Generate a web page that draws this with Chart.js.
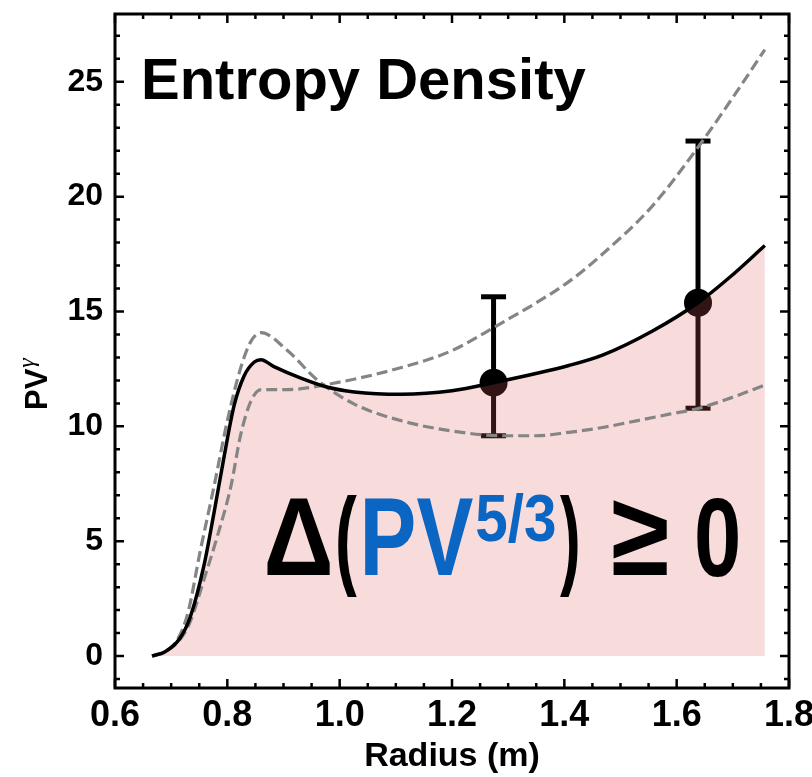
<!DOCTYPE html>
<html>
<head>
<script src="https://cdn.jsdelivr.net/npm/chart.js"></script>
<style>
  body { margin: 0; padding: 0; background: #fff; }
  #wrap { width: 812px; height: 777px; }
</style>
</head>
<body>
<div id="wrap"><canvas id="chart" width="812" height="777"></canvas></div>
<script>
// axis ticks
const xTickVals = [0.6, 0.8, 1.0, 1.2, 1.4, 1.6, 1.8];
const yTickVals = [0, 5, 10, 15, 20, 25];

// solid model profile (PV^gamma vs radius)
const solidX = [0.666, 0.690, 0.715, 0.734, 0.758, 0.776, 0.794, 0.812, 0.830, 0.848, 0.860, 0.883, 0.931, 0.979, 1.026, 1.110, 1.200, 1.274, 1.408, 1.468, 1.557, 1.638, 1.695, 1.757];
const solidY = [0, 0.2, 0.75, 1.7, 3.9, 6.2, 8.65, 10.9, 12.2, 12.8, 12.9, 12.6, 12.1, 11.7, 11.5, 11.4, 11.55, 11.9, 12.65, 13.1, 14.15, 15.38, 16.5, 17.87];

// dashed bound with the peak
const dashAX = [0.666, 0.690, 0.712, 0.730, 0.752, 0.776, 0.800, 0.824, 0.842, 0.860, 0.907, 0.961, 1.026, 1.110, 1.200, 1.289, 1.349, 1.408, 1.468, 1.528, 1.587, 1.638, 1.707, 1.757];
const dashAY = [0, 0.2, 0.75, 1.9, 4.6, 7.35, 10.24, 12.56, 13.7, 14.08, 13.3, 12.0, 10.97, 10.24, 9.8, 9.59, 9.59, 9.74, 9.95, 10.24, 10.53, 10.78, 11.33, 11.8];

// dashed bound with the plateau
const dashBX = [0.666, 0.690, 0.715, 0.734, 0.758, 0.782, 0.806, 0.824, 0.842, 0.860, 0.907, 0.979, 1.110, 1.200, 1.274, 1.408, 1.468, 1.557, 1.641, 1.707, 1.757];
const dashBY = [0, 0.2, 0.7, 1.5, 3.3, 5.2, 7.35, 9.66, 11.1, 11.6, 11.6, 11.83, 12.56, 13.3, 14.3, 16.3, 17.5, 19.6, 22.25, 24.57, 26.4];

// measured points with error bars
const ptX = [1.274, 1.638];
const ptY = [11.9, 15.38];
const errLo = [9.59, 10.79];
const errHi = [15.64, 22.42];

const toPts = (xs, ys) => xs.map((x, i) => ({ x: x, y: ys[i] }));

const BLUE = '#0b65c2';
const SANS = '"Liberation Sans", Arial, Helvetica, sans-serif';

// draw text stretched into an ink box
function fitBox(ctx, text, font, x0, x1, y0, y1) {
    ctx.font = font;
    const m = ctx.measureText(text);
    const w = m.actualBoundingBoxLeft + m.actualBoundingBoxRight;
    const h = m.actualBoundingBoxAscent + m.actualBoundingBoxDescent;
    ctx.save();
    ctx.translate(x0, y0);
    ctx.scale((x1 - x0) / w, (y1 - y0) / h);
    ctx.textAlign = 'left';
    ctx.textBaseline = 'alphabetic';
    ctx.fillText(text, m.actualBoundingBoxLeft, m.actualBoundingBoxAscent);
    ctx.restore();
}

// error bars go under everything
const errorBars = {
    id: 'errorBars',
    beforeDatasetsDraw(chart) {
        const ctx = chart.ctx, xs = chart.scales.x, ys = chart.scales.y;
        ctx.save();
        ctx.fillStyle = '#000';
        for (let i = 0; i < ptX.length; i++) {
            const px = xs.getPixelForValue(ptX[i]);
            const top = ys.getPixelForValue(errHi[i]);
            const bot = ys.getPixelForValue(errLo[i]);
            ctx.fillRect(px - 2.5, top, 5, bot - top);
            ctx.fillRect(px - 12.5, top - 2.5, 25, 5);
            ctx.fillRect(px - 12.5, bot - 2.5, 25, 5);
        }
        ctx.restore();
    }
};

// frame with inward major/minor ticks, plus text
const frameAndText = {
    id: 'frameAndText',
    afterDraw(chart) {
        const ctx = chart.ctx, a = chart.chartArea;
        const xs = chart.scales.x, ys = chart.scales.y;
        ctx.save();
        ctx.strokeStyle = '#000';
        ctx.lineWidth = 3;
        ctx.strokeRect(a.left, a.top, a.right - a.left, a.bottom - a.top);

        ctx.lineWidth = 2.5;
        ctx.beginPath();
        for (let k = 0; k <= 24; k++) {
            const v = 0.6 + k * 0.05;
            const px = xs.getPixelForValue(v);
            const len = k % 4 === 0 ? 9 : 5;
            ctx.moveTo(px, a.bottom); ctx.lineTo(px, a.bottom - len);
            ctx.moveTo(px, a.top); ctx.lineTo(px, a.top + len);
        }
        for (let v = -1; v <= 27; v++) {
            const py = ys.getPixelForValue(v);
            const len = v % 5 === 0 ? 9 : 5;
            ctx.moveTo(a.left, py); ctx.lineTo(a.left + len, py);
            ctx.moveTo(a.right, py); ctx.lineTo(a.right - len, py);
        }
        ctx.stroke();

        // title
        ctx.fillStyle = '#000';
        ctx.font = 'bold 58px ' + SANS;
        ctx.textAlign = 'left';
        ctx.textBaseline = 'alphabetic';
        ctx.fillText('Entropy Density', 141, 99);

        // big annotation
        const F = 'bold 110px ' + SANS;
        fitBox(ctx, '\u0394', F, 267, 330, 498, 575);
        fitBox(ctx, '(', F, 338, 357, 495, 597);
        ctx.fillStyle = BLUE;
        fitBox(ctx, 'PV', F, 365, 473, 498, 575);
        fitBox(ctx, '5/3', 'bold 70px ' + SANS, 477, 555, 493, 543);
        ctx.fillStyle = '#000';
        fitBox(ctx, ')', F, 560, 578, 495, 597);
        fitBox(ctx, '\u2265', F, 613, 667, 500, 575);
        fitBox(ctx, '0', F, 697, 738, 498, 577);

        // y axis title, rotated
        ctx.translate(47, 410);
        ctx.rotate(-Math.PI / 2);
        ctx.font = 'bold 31px ' + SANS;
        ctx.fillText('PV', 0, 0);
        const w = ctx.measureText('PV').width;
        ctx.font = 'italic 24px "Liberation Serif", "DejaVu Serif", serif';
        ctx.fillText('\u03B3', w + 1, -13);
        ctx.restore();
    }
};

new Chart(document.getElementById('chart'), {
    type: 'line',
    data: {
        datasets: [
            {
                label: 'model',
                data: toPts(solidX, solidY),
                borderColor: '#000',
                borderWidth: 3.5,
                pointRadius: 0,
                fill: false,
                cubicInterpolationMode: 'monotone',
                order: 0
            },
            {
                label: 'bound A',
                data: toPts(dashAX, dashAY),
                borderColor: '#858585',
                borderWidth: 3.2,
                borderDash: [11, 5],
                pointRadius: 0,
                fill: false,
                cubicInterpolationMode: 'monotone',
                order: 1
            },
            {
                label: 'bound B',
                data: toPts(dashBX, dashBY),
                borderColor: '#858585',
                borderWidth: 3.2,
                borderDash: [11, 5],
                pointRadius: 0,
                fill: false,
                cubicInterpolationMode: 'monotone',
                order: 1
            },
            {
                label: 'region',
                data: toPts(solidX, solidY),
                borderWidth: 0,
                borderColor: 'rgba(0,0,0,0)',
                backgroundColor: 'rgba(223,95,95,0.22)',
                pointRadius: 0,
                fill: 'origin',
                cubicInterpolationMode: 'monotone',
                order: 2
            },
            {
                label: 'measured',
                data: toPts(ptX, ptY),
                showLine: false,
                pointRadius: 14,
                pointBackgroundColor: '#000',
                pointBorderWidth: 0,
                order: 3
            }
        ]
    },
    options: {
        responsive: false,
        animation: false,
        layout: { padding: { top: 12, right: 23, left: 0, bottom: 0 } },
        plugins: {
            legend: { display: false },
            tooltip: { enabled: false }
        },
        scales: {
            x: {
                type: 'linear',
                min: 0.6,
                max: 1.8,
                afterBuildTicks: (s) => { s.ticks = xTickVals.map(v => ({ value: v })); },
                afterFit: (s) => { s.height = 89; s.paddingLeft = 0; s.paddingRight = 0; },
                grid: { display: false, drawTicks: false },
                border: { display: false },
                ticks: {
                    color: '#000',
                    padding: 6,
                    maxRotation: 0,
                    font: { family: SANS, size: 36, weight: 'bold' },
                    callback: (v) => Number(v).toFixed(1)
                },
                title: {
                    display: true,
                    text: 'Radius (m)',
                    color: '#000',
                    font: { family: SANS, size: 34, weight: 'bold' },
                    padding: { top: 0, bottom: 0 }
                }
            },
            y: {
                type: 'linear',
                min: -1.39,
                max: 27.95,
                afterBuildTicks: (s) => { s.ticks = yTickVals.map(v => ({ value: v })); },
                afterFit: (s) => { s.width = 115; s.paddingTop = 0; s.paddingBottom = 0; },
                grid: { display: false, drawTicks: false },
                border: { display: false },
                ticks: {
                    color: '#000',
                    padding: 12,
                    font: { family: SANS, size: 32, weight: 'bold' },
                    callback: (v) => String(v)
                }
            }
        }
    },
    plugins: [errorBars, frameAndText]
});
</script>
</body>
</html>
